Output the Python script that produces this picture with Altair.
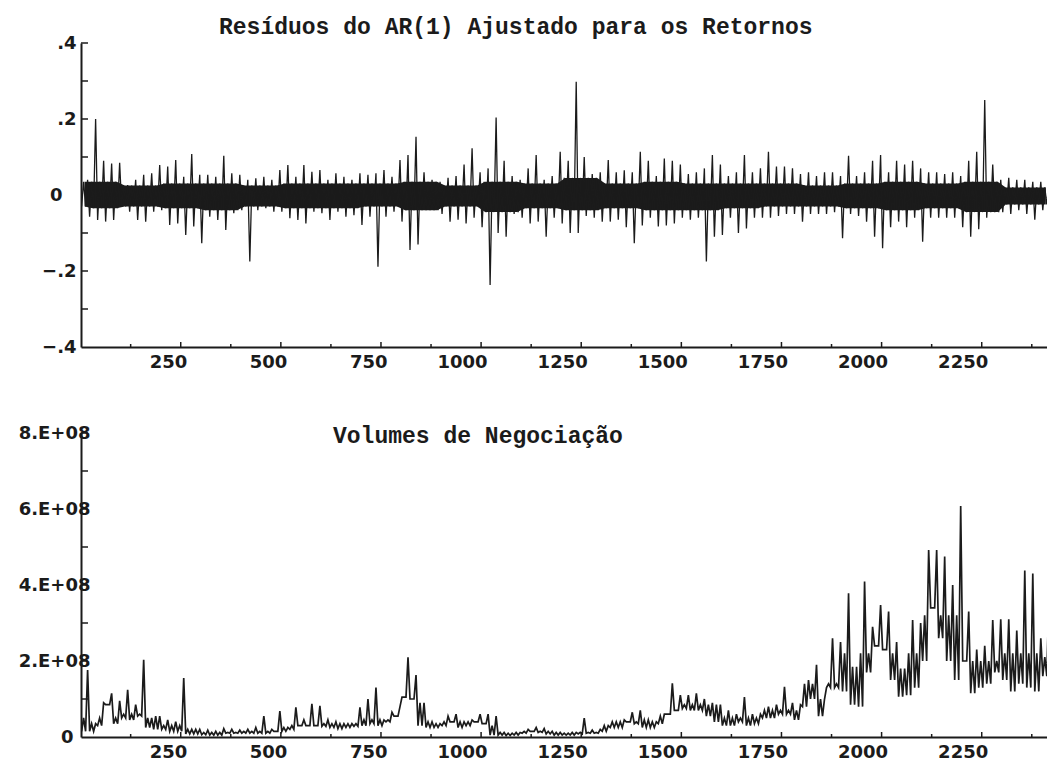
import altair as alt
import pandas as pd

# ---------------- data ----------------
BIN = 20          # observation units per bin (each bin: lowest and highest value seen)
T_END = 2413      # last observation visible at the right edge

# Residuals of AR(1): per-bin extremes (121 bins of 20 observations)
res_hi = [.04, .20, .09, .083, .085, .026, .04, .053, .057, .079,
          .075, .092, .048, .108, .053, .053, .048, .103, .057, .053,
          .04, .044, .048, .04, .066, .079, .048, .079, .061, .066,
          .04, .057, .048, .04, .057, .053, .057, .066, .048, .092,
          .105,
          .153, .06, .04, .035, .045, .05, .08, .123, .06, .07,
          .204, .09, .05, .04, .07, .105, .04, .05, .114, .09,
          .298, .10, .055, .06, .092, .06, .065, .06, .114, .09,
          .05, .096, .09, .08, .055, .06, .07, .105, .08, .05,
          .06, .105, .06, .07, .114, .075, .075, .07, .055, .06,
          .05, .06, .06, .05, .103, .05, .06, .09, .105, .06,
          .09, .08, .09, .07, .06, .06, .055, .06, .05, .09,
          .114, .25, .08, .04, .045, .04, .04, .035, .035, .03]
res_lo = [-.03, -.057, -.066, -.07, -.066, -.03, -.044, -.066, -.07, -.044,
          -.04, -.079, -.075, -.105, -.083, -.127, -.057, -.066, -.092, -.048,
          -.04, -.175, -.04, -.035, -.044, -.044, -.061, -.066, -.075, -.044,
          -.048, -.066, -.044, -.057, -.053, -.079, -.057, -.189, -.057, -.044,
          -.07,
          -.145, -.13, -.04, -.04, -.05, -.07, -.065, -.075, -.06, -.085,
          -.237, -.10, -.11, -.05, -.06, -.075, -.07, -.11, -.06, -.075,
          -.10, -.10, -.055, -.06, -.07, -.07, -.065, -.085, -.127, -.08,
          -.06, -.083, -.08, -.075, -.06, -.065, -.06, -.175, -.11, -.105,
          -.06, -.10, -.088, -.06, -.06, -.06, -.055, -.05, -.05, -.07,
          -.05, -.05, -.05, -.045, -.114, -.05, -.055, -.07, -.11, -.14,
          -.085, -.07, -.085, -.06, -.123, -.06, -.06, -.06, -.06, -.085,
          -.11, -.09, -.06, -.045, -.045, -.05, -.04, -.05, -.065, -.04]

# dense core of the residual band, per block of 100 observations
BLOCK = 100
core_hi = [.035, .025, .03, .03, .025, .03, .03, .03, .035, .025, .035, .03, .045,
           .03, .035, .03, .03, .03, .025, .03, .035, .03, .035, .02, .02]
core_lo = [-.035, -.03, -.035, -.04, -.03, -.035, -.035, -.03, -.04, -.03, -.045, -.035, -.04,
           -.035, -.04, -.04, -.035, -.03, -.03, -.035, -.04, -.035, -.045, -.025, -.025]

# Trading volumes, per-bin extremes in units of 1E+08
vol_hi = [1.76, .35, .9, 1.15, .95, 1.24, .85, 2.03, .5, .55,
          .45, .4, 1.55, .2, .2, .18, .15, .22, .2, .18,
          .2, .25, .55, .2, .68, .25, .78, .45, .87, .82,
          .45, .4, .35, .35, .78, 1.0, 1.3, .45, .65, .8,
          2.1, 1.63, .9, .4, .35, .55, .6, .4, .45, .6,
          .6, .55, .12, .1, .12, .2, .25, .22, .15, .12,
          .1, .12, .5, .18, .2, .3, .4, .45, .65, .7,
          .45, .4, .6, 1.41, 1.1, 1.1, 1.15, 1.0, .9, .85,
          .7, .6, 1.05, .6, .6, .8, .85, 1.32, .9, .85,
          1.5, 1.9, 1.0, 2.6, 2.5, 3.78, 1.85, 4.09, 2.9, 3.47,
          3.3, 2.5, 1.8, 3.08, 3.0, 4.92, 4.92, 4.75, 4.0, 6.08,
          3.3, 2.3, 2.4, 3.08, 3.1, 3.1, 2.8, 4.38, 4.3, 2.6, 3.6]
vol_lo = [.15, .15, .3, .85, .35, .5, .45, .55, .25, .2,
          .2, .15, .15, .08, .08, .06, .05, .05, .1, .1,
          .1, .1, .1, .1, .15, .15, .2, .3, .3, .3,
          .28, .25, .22, .25, .28, .3, .35, .3, .4, .55,
          1.05, 1.0, .3, .25, .25, .3, .4, .25, .3, .4,
          .35, .05, .05, .04, .05, .1, .15, .12, .08, .05,
          .05, .05, .08, .1, .1, .15, .25, .25, .4, .35,
          .25, .25, .35, .6, .7, .75, .7, .7, .55, .4,
          .3, .3, .4, .3, .35, .5, .5, .6, .6, .45,
          .8, 1.0, .55, 1.3, 1.3, 1.2, .85, .8, 1.7, 2.4,
          2.3, 1.5, 1.06, 1.1, 1.3, 2.0, 3.4, 2.6, 2.0, 1.5,
          2.0, 1.15, 1.3, 1.4, 1.7, 1.5, 1.2, 1.4, 1.3, 1.2, 1.6]
# typical (dense) volume level per block of 100 observations, 1E+08
vol_mid = [.5, .6, .3, .12, .15, .3, .35, .45, .9, .4, .3, .15, .12,
           .4, .55, .85, .5, .7, 1.4, 2.2, 2.2, 3.2, 2.0, 2.2, 2.1]
VOL_UNIT = 1e8

x_major = [250, 500, 750, 1000, 1250, 1500, 1750, 2000, 2250]
x_minor = [125, 375, 625, 875, 1125, 1375, 1625, 1875, 2125, 2375]
res_labels = [-.4, -.2, 0, .2, .4]
res_ticks = [-.3, -.2, -.1, .1, .2, .3, .4]
vol_labels = [0, 2e8, 4e8, 6e8, 8e8]
vol_ticks = [1e8, 2e8, 3e8, 4e8, 5e8, 6e8, 7e8, 8e8]

title_top = "Resíduos do AR(1) Ajustado para os Retornos"
title_bot = "Volumes de Negociação"


# ---------------- tables ----------------
def clamp(x, a, b):
    return max(a, min(b, x))


def res_tables():
    rows, band = [], []
    for k, (h, l) in enumerate(zip(res_hi, res_lo)):
        b = min(k * BIN // BLOCK, len(core_hi) - 1)
        ch, cl = clamp(core_hi[b], l, h), clamp(core_lo[b], l, h)
        for j, v in enumerate([l, ch, cl, h]):
            rows.append({"t": k * BIN + 2.5 + 5 * j, "v": v})
        band.append({"t": k * BIN + BIN / 2, "hi": ch, "lo": cl})
    return pd.DataFrame(rows), pd.DataFrame(band)


def vol_table():
    rows = []
    for k, (h, l) in enumerate(zip(vol_hi, vol_lo)):
        b = min(k * BIN // BLOCK, len(vol_mid) - 1)
        m = clamp(vol_mid[b], l, h)
        for j, v in enumerate([l, m, l, h]):
            rows.append({"t": k * BIN + 2.5 + 5 * j, "v": v * VOL_UNIT})
    return pd.DataFrame(rows)


res_df, res_band = res_tables()
vol_df = vol_table()

W, H = 966, 304
INK = "#1b1b1b"
LFONT = "DejaVu Sans"
TFONT = "Liberation Mono"

xscale = alt.Scale(domain=[1, T_END], nice=False, zero=False)

xaxis = alt.Axis(values=x_major, format="d", title=None, grid=False, ticks=False, tickSize=0,
                 domainColor=INK, domainWidth=2, labelAlign="right", labelOffset=6,
                 labelPadding=6, labelBaseline="top", labelFont=LFONT,
                 labelFontWeight="bold", labelFontSize=18, labelColor=INK)

res_scale = alt.Scale(domain=[-0.4, 0.4], nice=False, zero=False)
res_axis = alt.Axis(values=res_labels, title=None, grid=False, ticks=False, tickSize=0,
                    domainColor=INK, domainWidth=2, labelFont=LFONT, labelFontWeight="bold",
                    labelFontSize=18, labelColor=INK, labelBaseline="middle",
                    labelExpr="datum.value == 0 ? '0' : replace(format(datum.value, '.1f'), '0.', '.')",
                    labelPadding={"condition": {"test": "datum.value == 0", "value": 19}, "value": 5})

vol_scale = alt.Scale(domain=[0, 8e8], nice=False)
vol_axis = alt.Axis(values=vol_labels, title=None, grid=False, ticks=False, tickSize=0,
                    domainColor=INK, domainWidth=2, labelFont=LFONT, labelFontWeight="bold",
                    labelFontSize=18, labelColor=INK, labelBaseline="middle",
                    labelExpr="datum.value == 0 ? '0' : format(datum.value / 1e8, 'd') + '.E+08'",
                    labelPadding={"condition": {"test": "datum.value == 0", "value": 8}, "value": -9})


def tick_layers(yscale, yaxis, yticks):
    xt_major = alt.Chart(pd.DataFrame({"t": x_major})).mark_rule(color=INK, strokeWidth=1.5).encode(
        x=alt.X("t:Q", scale=xscale, axis=xaxis), y=alt.value(H), y2=alt.value(H - 5))
    xt_minor = alt.Chart(pd.DataFrame({"t": x_minor})).mark_rule(color=INK, strokeWidth=1.5).encode(
        x=alt.X("t:Q", scale=xscale, axis=xaxis), y=alt.value(H), y2=alt.value(H - 3))
    yt = alt.Chart(pd.DataFrame({"v": yticks})).mark_rule(color=INK, strokeWidth=1.5).encode(
        y=alt.Y("v:Q", scale=yscale, axis=yaxis), x=alt.value(0), x2=alt.value(7))
    return [xt_major, xt_minor, yt]


# ---------------- top panel ----------------
res_fill = alt.Chart(res_band).mark_area(color=INK, clip=True).encode(
    x=alt.X("t:Q", scale=xscale, axis=xaxis),
    y=alt.Y("hi:Q", scale=res_scale, axis=res_axis), y2="lo:Q")
res_line = alt.Chart(res_df).mark_line(color=INK, strokeWidth=1.3, clip=True).encode(
    x=alt.X("t:Q", scale=xscale, axis=xaxis),
    y=alt.Y("v:Q", scale=res_scale, axis=res_axis))

top = alt.layer(res_fill, res_line, *tick_layers(res_scale, res_axis, res_ticks)).properties(
    width=W, height=H,
    title=alt.TitleParams(title_top, anchor="start", frame="group", dx=138, dy=5, offset=0,
                          font=TFONT, fontSize=23, fontWeight="bold", color=INK))

# ---------------- bottom panel ----------------
vol_line = alt.Chart(vol_df).mark_line(color=INK, strokeWidth=1.7, clip=True).encode(
    x=alt.X("t:Q", scale=xscale, axis=xaxis),
    y=alt.Y("v:Q", scale=vol_scale, axis=vol_axis))

bottom = alt.layer(vol_line, *tick_layers(vol_scale, vol_axis, vol_ticks)).properties(
    width=W, height=H,
    title=alt.TitleParams(title_bot, anchor="start", frame="group", dx=252, dy=24, offset=0,
                          font=TFONT, fontSize=23, fontWeight="bold", color=INK))

chart = alt.vconcat(top, bottom, spacing=86, bounds="flush").properties(
    padding={"left": 18, "top": 16, "right": 0, "bottom": 0},
    background="white",
).configure_view(stroke=None)

chart.save("out.html", embed_options={"renderer": "svg", "actions": False})
